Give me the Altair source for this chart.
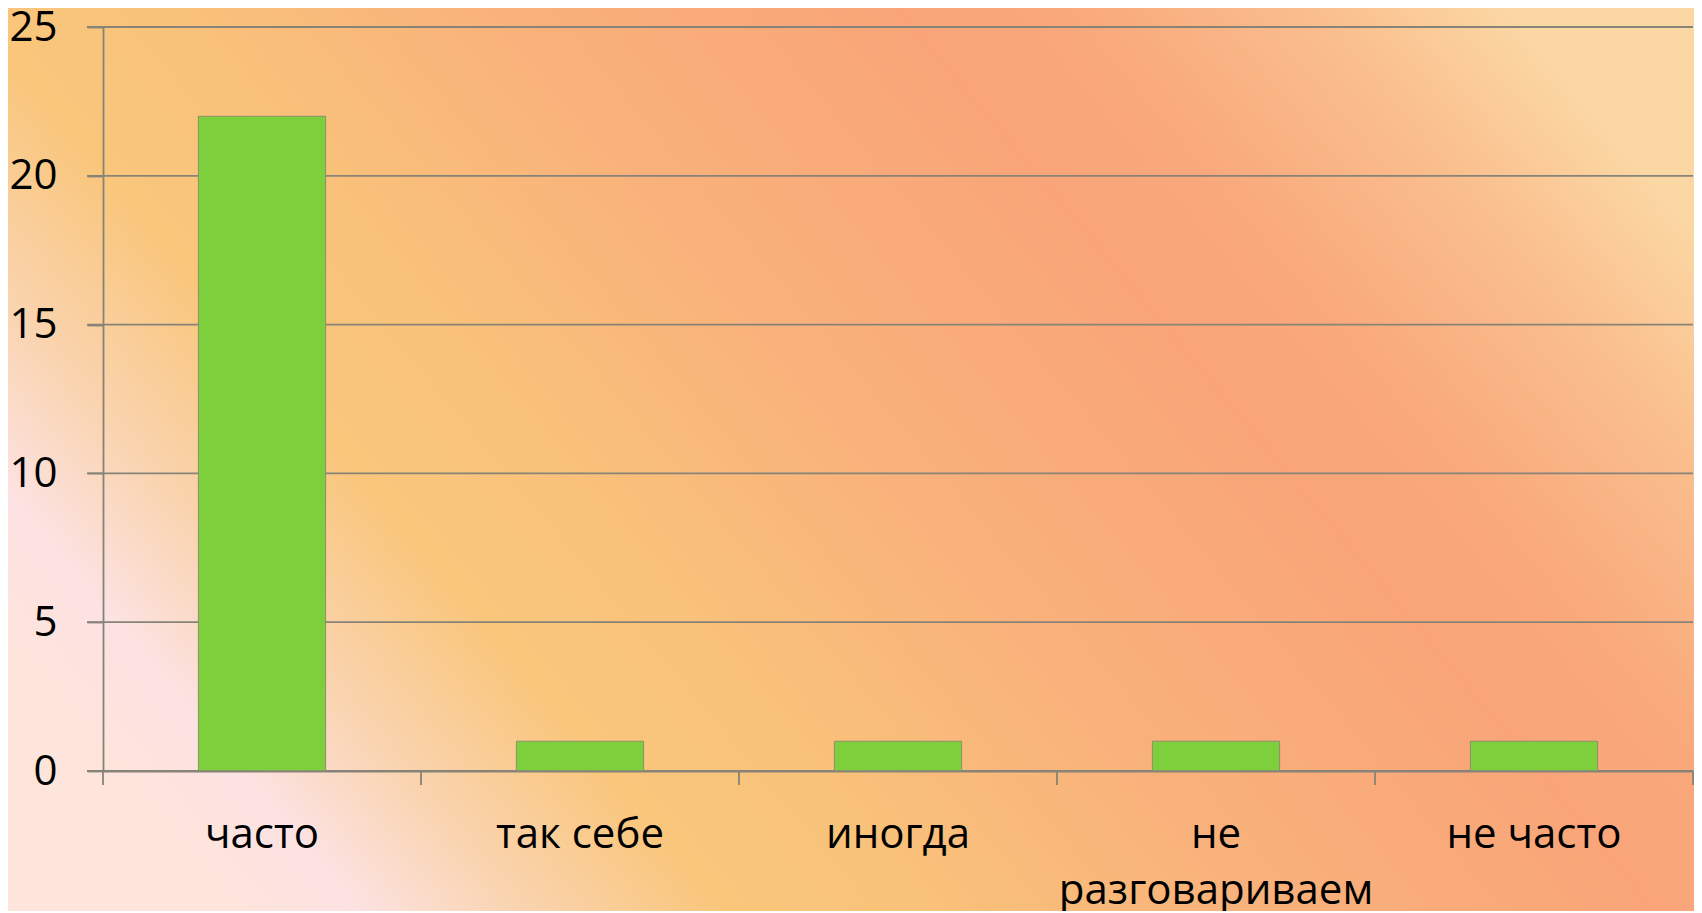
import altair as alt
import pandas as pd

categories = ["часто", "так себе", "иногда", "не разговариваем", "не часто"]
values = [22, 1, 1, 1, 1]
y_ticks = [0, 5, 10, 15, 20, 25]
x_tick_positions = [0, 1, 2, 3, 4, 5]

W, H = 1590, 744
FONT = "Open Sans"
GRAY = "#878378"

df = pd.DataFrame({"cat": categories, "val": values})

gradient = alt.LinearGradient(
    gradient="linear",
    x1=0, y1=0.7, x2=1, y2=0.25,
    stops=[
        alt.GradientStop(color="#fde5dc", offset=0.0),
        alt.GradientStop(color="#fce2e2", offset=0.06),
        alt.GradientStop(color="#fad4b0", offset=0.14),
        alt.GradientStop(color="#f9c67c", offset=0.24),
        alt.GradientStop(color="#f9c27a", offset=0.34),
        alt.GradientStop(color="#f9b27b", offset=0.5),
        alt.GradientStop(color="#f9a579", offset=0.7),
        alt.GradientStop(color="#f9a87b", offset=0.78),
        alt.GradientStop(color="#fabd8c", offset=0.9),
        alt.GradientStop(color="#fbd7a3", offset=1.0),
    ],
)

bg = alt.Chart(pd.DataFrame({"k": [0]})).mark_rect(fill=gradient).encode(
    x=alt.value(-95), x2=alt.value(W + 1), y=alt.value(-19), y2=alt.value(H + 140)
)

grid = alt.Chart(pd.DataFrame({"v": y_ticks})).mark_rule(
    color=GRAY, strokeWidth=1.8
).encode(
    y=alt.Y("v:Q", scale=alt.Scale(domain=[0, 25], nice=False)),
    x=alt.value(-16),
    x2=alt.value(W),
)

bars = alt.Chart(df).mark_bar(color="#7dd03c", stroke="#8d8f6c", strokeWidth=1).encode(
    x=alt.X(
        "cat:N",
        sort=categories,
        scale=alt.Scale(paddingInner=0.6, paddingOuter=0.3),
        axis=alt.Axis(
            title=None,
            labelAngle=0,
            ticks=False,
            domain=True,
            domainColor=GRAY,
            domainWidth=1.8,
            labelFont=FONT,
            labelFontSize=42,
            labelColor="#000000",
            labelPadding=43,
            labelLineHeight=56,
            labelLimit=500,
            labelOverlap=False,
            labelExpr="length(datum.value) > 12 ? split(datum.value, ' ') : datum.value",
            zindex=1,
        ),
    ),
    y=alt.Y(
        "val:Q",
        scale=alt.Scale(domain=[0, 25], nice=False),
        axis=alt.Axis(
            title=None,
            values=y_ticks,
            grid=False,
            tickSize=16,
            tickColor=GRAY,
            tickWidth=1.8,
            domainColor=GRAY,
            domainWidth=1.8,
            labelFont=FONT,
            labelFontSize=42,
            labelColor="#000000",
            labelPadding=30,
            zindex=1,
        ),
    ),
)

ticks = alt.Chart(pd.DataFrame({"pos": x_tick_positions})).mark_rule(
    color=GRAY, strokeWidth=1.8
).encode(
    x=alt.X("pos:Q", scale=alt.Scale(domain=[0, 5], nice=False, zero=False), axis=None),
    y=alt.value(H),
    y2=alt.value(H + 14),
)

chart = (
    alt.layer(bg, grid, bars, ticks)
    .resolve_scale(x="independent")
    .properties(
        width=W,
        height=H,
        autosize=alt.AutoSizeParams(type="none"),
        padding={"left": 95, "top": 19, "right": 1, "bottom": 140},
        background="#fbd3b0",
    )
    .configure_view(stroke=None)
)

chart.save("out.html", embed_options={"renderer": "svg", "actions": False})
